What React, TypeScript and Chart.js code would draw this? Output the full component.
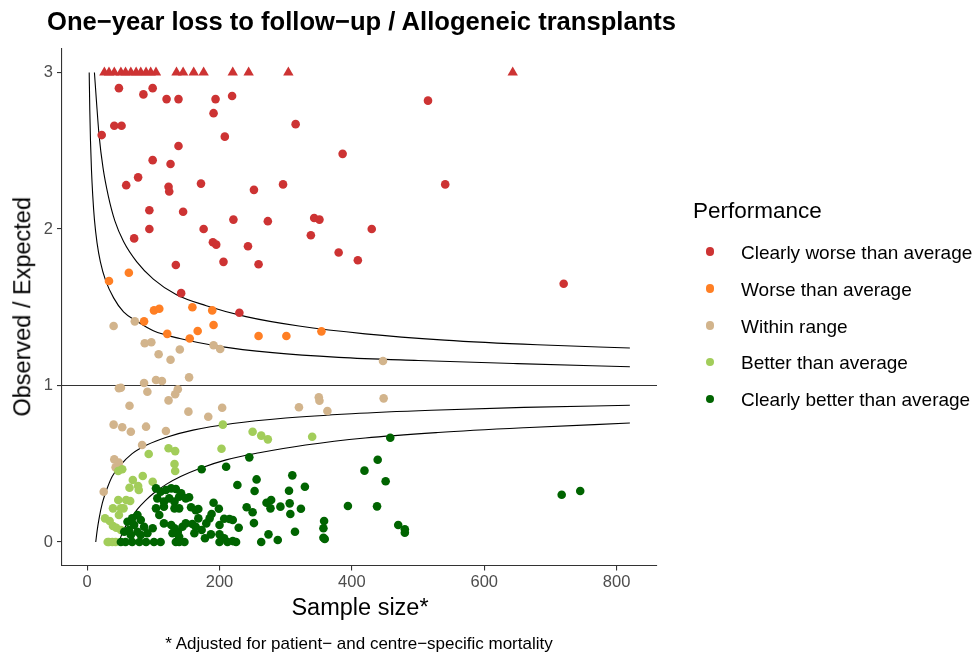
import React, { useEffect, useRef } from "react";
import { Chart, registerables } from "chart.js";

Chart.register(...registerables);

const FONT = '"Liberation Sans", Arial, Helvetica, sans-serif';

// ---------- axis settings ----------
const xTickValues = [0, 200, 400, 600, 800];
const yTickValues = [0, 1, 2, 3];
const X_MIN = -38;
const X_MAX = 861;
const Y_MIN = -0.15;
const Y_MAX = 3.15;
const REFERENCE_OE = 1;

// ---------- categories ----------
const categories = [
  "Clearly worse than average",
  "Worse than average",
  "Within range",
  "Better than average",
  "Clearly better than average",
];
const categoryColors = ["#CD3333", "#FF7F24", "#D2B48C", "#A2CD5A", "#006400"];

// ---------- Clearly worse than average ----------
const clearlyWorseN = [48, 85, 99, 120, 138, 194, 219, 191, 41, 52, 22, 208, 138, 99, 126, 77, 59, 123, 124, 172, 252, 94, 145, 221, 94, 176, 515, 315, 386, 296, 541, 273, 343, 351, 430, 71, 190, 195, 243, 134, 206, 259, 142, 230, 338, 380, 409, 720];
const clearlyWorseOE = [2.9, 2.86, 2.9, 2.83, 2.83, 2.83, 2.85, 2.74, 2.66, 2.66, 2.6, 2.59, 2.53, 2.44, 2.415, 2.33, 2.28, 2.27, 2.24, 2.29, 2.25, 2.12, 2.11, 2.06, 2.0, 2.0, 2.82, 2.67, 2.48, 2.285, 2.285, 2.05, 2.07, 2.06, 2.0, 1.94, 1.915, 1.9, 1.89, 1.77, 1.79, 1.775, 1.59, 1.465, 1.96, 1.85, 1.8, 1.65];
// values above 3 shown capped at 3 (triangles)
const cappedN = [26, 33, 41, 51, 58, 66, 74, 81, 89, 96, 104, 135, 145, 161, 176, 220, 244, 304, 643];
const CAP_OE = 3;

// ---------- Worse than average ----------
const worseN = [33, 63, 101, 109, 159, 189, 86, 191, 167, 121, 155, 259, 301, 354];
const worseOE = [1.668, 1.72, 1.48, 1.49, 1.5, 1.48, 1.41, 1.387, 1.348, 1.33, 1.3, 1.316, 1.316, 1.346];

// ---------- Within range ----------
const withinN = [40, 72, 87, 97, 108, 140, 126, 191, 201, 154, 86, 104, 113, 48, 51, 91, 137, 133, 123, 447, 350, 351, 448, 64, 153, 40, 53, 66, 89, 119, 83, 41, 48, 43, 25, 183, 204, 320, 363];
const withinOE = [1.38, 1.41, 1.27, 1.276, 1.2, 1.23, 1.165, 1.257, 1.233, 1.052, 1.016, 1.035, 1.029, 0.982, 0.986, 0.96, 0.976, 0.944, 0.905, 1.157, 0.925, 0.903, 0.918, 0.871, 0.833, 0.75, 0.733, 0.705, 0.737, 0.709, 0.62, 0.528, 0.507, 0.477, 0.321, 0.8, 0.858, 0.861, 0.837];

// ---------- Better than average ----------
const betterN = [93, 123, 133, 132, 133, 53, 47, 84, 99, 64, 77, 78, 69, 47, 65, 59, 55, 39, 51, 48, 27, 34, 39, 44, 51, 31, 33, 38, 43, 205, 250, 263, 273, 340, 203];
const betterOE = [0.562, 0.599, 0.581, 0.498, 0.454, 0.465, 0.454, 0.422, 0.385, 0.347, 0.358, 0.332, 0.396, 0.268, 0.262, 0.268, 0.215, 0.215, 0.215, 0.173, 0.151, 0.134, 0.102, 0.091, 0.077, 0, 0, 0, 0, 0.75, 0.705, 0.68, 0.656, 0.673, 0.596];

// ---------- Clearly better than average ----------
const clearlyBetterN = [245, 173, 210, 310, 256, 227, 329, 253, 305, 154, 191, 271, 278, 306, 157, 168, 199, 241, 250, 277, 292, 323, 307, 188, 185, 168, 207, 215, 159, 164, 180, 200, 220, 252, 229, 358, 357, 162, 173, 187, 200, 207, 178, 274, 314, 200, 212, 220, 225, 263, 288, 357, 359, 458, 439, 419, 451, 394, 438, 470, 480, 480, 717, 745, 104, 111, 119, 127, 134, 142, 106, 116, 124, 132, 139, 104, 116, 132, 139, 109, 76, 68, 61, 81, 71, 86, 99, 63, 76, 91, 56, 66, 81, 51, 58, 68, 79, 89, 101, 111, 116, 127, 132, 137, 144, 129, 134, 147, 149, 164, 149, 139, 139];
const clearlyBetterOE = [0.541, 0.465, 0.481, 0.426, 0.4, 0.364, 0.353, 0.326, 0.328, 0.286, 0.251, 0.251, 0.268, 0.247, 0.222, 0.211, 0.213, 0.222, 0.19, 0.215, 0.226, 0.213, 0.179, 0.179, 0.151, 0.151, 0.149, 0.147, 0.115, 0.098, 0.119, 0.109, 0.141, 0.121, 0.091, 0.134, 0.088, 0.056, 0.077, 0.049, 0.049, 0.024, 0.024, 0.049, 0.066, 0, 0, 0.006, 0, 0, 0.013, 0.027, 0.019, 0.666, 0.526, 0.456, 0.388, 0.23, 0.228, 0.109, 0.081, 0.059, 0.302, 0.326, 0.343, 0.321, 0.332, 0.343, 0.339, 0.311, 0.279, 0.258, 0.279, 0.258, 0.289, 0.215, 0.226, 0.215, 0.215, 0.173, 0.173, 0.151, 0.13, 0.141, 0.109, 0.098, 0.088, 0.077, 0.066, 0.056, 0.066, 0.045, 0.045, 0, 0, 0, 0, 0, 0, 0, 0.119, 0.109, 0.088, 0.066, 0.098, 0.056, 0, 0, 0.279, 0.204, 0.119, 0.034, 0];

// ---------- funnel control limits ----------
const upperOuterN = [11, 14, 18, 24, 32, 42, 55, 75, 100, 135, 180, 240, 320, 420, 540, 680, 820];
const upperOuterOE = [3.0, 2.82, 2.6, 2.39, 2.21, 2.05, 1.92, 1.79, 1.68, 1.58, 1.51, 1.44, 1.38, 1.33, 1.29, 1.26, 1.24];
const upperInnerN = [3.1, 4, 5, 6.5, 8.5, 11, 15, 20, 28, 40, 55, 75, 100, 140, 200, 280, 380, 500, 650, 820];
const upperInnerOE = [3.0, 2.76, 2.57, 2.38, 2.21, 2.06, 1.91, 1.79, 1.67, 1.56, 1.47, 1.41, 1.35, 1.3, 1.25, 1.21, 1.18, 1.16, 1.14, 1.12];
const lowerInnerN = [13, 15, 18, 23, 30, 38, 50, 68, 90, 120, 160, 220, 300, 400, 520, 660, 820];
const lowerInnerOE = [0, 0.07, 0.15, 0.25, 0.34, 0.42, 0.49, 0.565, 0.62, 0.67, 0.715, 0.757, 0.792, 0.82, 0.842, 0.86, 0.874];
const lowerOuterN = [48, 52, 58, 66, 76, 88, 100, 120, 142, 170, 210, 260, 330, 420, 530, 660, 820];
const lowerOuterOE = [0, 0.045, 0.1, 0.15, 0.21, 0.265, 0.31, 0.37, 0.42, 0.47, 0.525, 0.57, 0.62, 0.665, 0.7, 0.73, 0.76];

const toPoints = (xs: number[], ys: number[]) => xs.map((x, i) => ({ x, y: ys[i] }));

const refLinePlugin = {
  id: "refLine",
  beforeDatasetsDraw(chart: any) {
    const { ctx, chartArea, scales } = chart;
    const y = scales.y.getPixelForValue(REFERENCE_OE);
    ctx.save();
    ctx.strokeStyle = "#333333";
    ctx.lineWidth = 1.1;
    ctx.beginPath();
    ctx.moveTo(chartArea.left, y);
    ctx.lineTo(chartArea.right, y);
    ctx.stroke();
    ctx.restore();
  },
};

export default function App() {
  const canvasRef = useRef<HTMLCanvasElement | null>(null);

  useEffect(() => {
    const canvas = canvasRef.current;
    if (!canvas) return;

    const pointDs = (label: string, color: string, xs: number[], ys: number[], order: number) => ({
      type: "scatter" as const,
      label,
      data: toPoints(xs, ys),
      backgroundColor: color,
      borderColor: color,
      borderWidth: 0,
      pointRadius: 4.3,
      pointHoverRadius: 4.3,
      pointBorderWidth: 0,
      pointStyle: "circle",
      order,
    });
    const lineDs = (xs: number[], ys: number[]) => ({
      type: "line" as const,
      label: "limit",
      data: toPoints(xs, ys),
      borderColor: "#000000",
      borderWidth: 1.1,
      pointRadius: 0,
      showLine: true,
      fill: false,
      cubicInterpolationMode: "monotone" as const,
      order: 10,
    });

    const chart = new Chart(canvas, {
      type: "scatter",
      data: {
        datasets: [
          lineDs(upperOuterN, upperOuterOE),
          lineDs(upperInnerN, upperInnerOE),
          lineDs(lowerInnerN, lowerInnerOE),
          lineDs(lowerOuterN, lowerOuterOE),
          pointDs(categories[0], categoryColors[0], clearlyWorseN, clearlyWorseOE, 5),
          {
            type: "scatter" as const,
            label: categories[0] + " (capped)",
            data: cappedN.map((x) => ({ x, y: CAP_OE })),
            backgroundColor: categoryColors[0],
            borderColor: categoryColors[0],
            borderWidth: 0,
            pointRadius: 6,
            pointBorderWidth: 0,
            pointStyle: "triangle",
            order: 5,
          },
          pointDs(categories[1], categoryColors[1], worseN, worseOE, 4),
          pointDs(categories[2], categoryColors[2], withinN, withinOE, 3),
          pointDs(categories[3], categoryColors[3], betterN, betterOE, 2),
          pointDs(categories[4], categoryColors[4], clearlyBetterN, clearlyBetterOE, 1),
        ] as any,
      },
      options: {
        animation: false,
        responsive: false,
        maintainAspectRatio: false,
        events: [],
        layout: { padding: { left: 0, top: 49, right: 317, bottom: 0 } },
        plugins: {
          legend: { display: false },
          tooltip: { enabled: false },
          title: { display: false },
        },
        scales: {
          x: {
            type: "linear",
            min: X_MIN,
            max: X_MAX,
            afterFit: (s: any) => {
              s.height = 89.5;
            },
            afterBuildTicks: (s: any) => {
              s.ticks = xTickValues.map((v) => ({ value: v }));
            },
            grid: {
              display: true,
              drawOnChartArea: false,
              drawTicks: true,
              tickLength: 5,
              color: "#333333",
              lineWidth: 1.1,
            },
            border: { display: true, color: "#333333", width: 1.1 },
            ticks: {
              color: "#4D4D4D",
              font: { family: FONT, size: 16.5 },
              padding: 2,
              maxRotation: 0,
              autoSkip: false,
            },
          },
          y: {
            type: "linear",
            min: Y_MIN,
            max: Y_MAX,
            afterFit: (s: any) => {
              s.width = 62;
            },
            afterBuildTicks: (s: any) => {
              s.ticks = yTickValues.map((v) => ({ value: v }));
            },
            grid: {
              display: true,
              drawOnChartArea: false,
              drawTicks: true,
              tickLength: 5,
              color: "#333333",
              lineWidth: 1.1,
            },
            border: { display: true, color: "#333333", width: 1.1 },
            ticks: {
              color: "#4D4D4D",
              font: { family: FONT, size: 16.5 },
              padding: 4,
              autoSkip: false,
            },
          },
        },
      } as any,
      plugins: [refLinePlugin],
    });

    return () => chart.destroy();
  }, []);

  const legendTop = 251.7;
  const legendStep = 36.8;

  return (
    <div
      style={{
        position: "fixed",
        left: 0,
        top: 0,
        width: 974,
        height: 655,
        background: "#ffffff",
        fontFamily: FONT,
        color: "#000000",
        overflow: "hidden",
      }}
    >
      <canvas
        ref={canvasRef}
        width={974}
        height={655}
        style={{ position: "absolute", left: 0, top: 0, width: 974, height: 655 }}
      />
      <div
        style={{
          position: "absolute",
          left: 47,
          top: 8.5,
          fontSize: 25.6,
          lineHeight: "25.6px",
          fontWeight: "bold",
          whiteSpace: "nowrap",
        }}
      >
        One−year loss to follow−up / Allogeneic transplants
      </div>
      <div
        style={{
          position: "absolute",
          left: 23 - 200,
          top: 307 - 11.75,
          width: 400,
          height: 23.5,
          fontSize: 23.5,
          lineHeight: "23.5px",
          textAlign: "center",
          whiteSpace: "nowrap",
          transform: "rotate(-90deg)",
          transformOrigin: "center center",
        }}
      >
        Observed / Expected
      </div>
      <div
        style={{
          position: "absolute",
          left: 360 - 200,
          top: 595.5,
          width: 400,
          fontSize: 23.5,
          lineHeight: "23.5px",
          textAlign: "center",
          whiteSpace: "nowrap",
        }}
      >
        Sample size*
      </div>
      <div
        style={{
          position: "absolute",
          left: 359 - 300,
          top: 634.6,
          width: 600,
          fontSize: 17,
          lineHeight: "17px",
          textAlign: "center",
          whiteSpace: "nowrap",
        }}
      >
        * Adjusted for patient− and centre−specific mortality
      </div>
      <div
        style={{
          position: "absolute",
          left: 693,
          top: 200.3,
          fontSize: 22.5,
          lineHeight: "22.5px",
          whiteSpace: "nowrap",
        }}
      >
        Performance
      </div>
      {categories.map((c, i) => {
        const cy = legendTop + legendStep * i;
        return (
          <React.Fragment key={c}>
            <div
              style={{
                position: "absolute",
                left: 710 - 4.3,
                top: cy - 4.3,
                width: 8.6,
                height: 8.6,
                borderRadius: "50%",
                background: categoryColors[i],
              }}
            />
            <div
              style={{
                position: "absolute",
                left: 741,
                top: cy + 7.3 - 16.08,
                fontSize: 19,
                lineHeight: "19px",
                whiteSpace: "nowrap",
              }}
            >
              {c}
            </div>
          </React.Fragment>
        );
      })}
    </div>
  );
}
